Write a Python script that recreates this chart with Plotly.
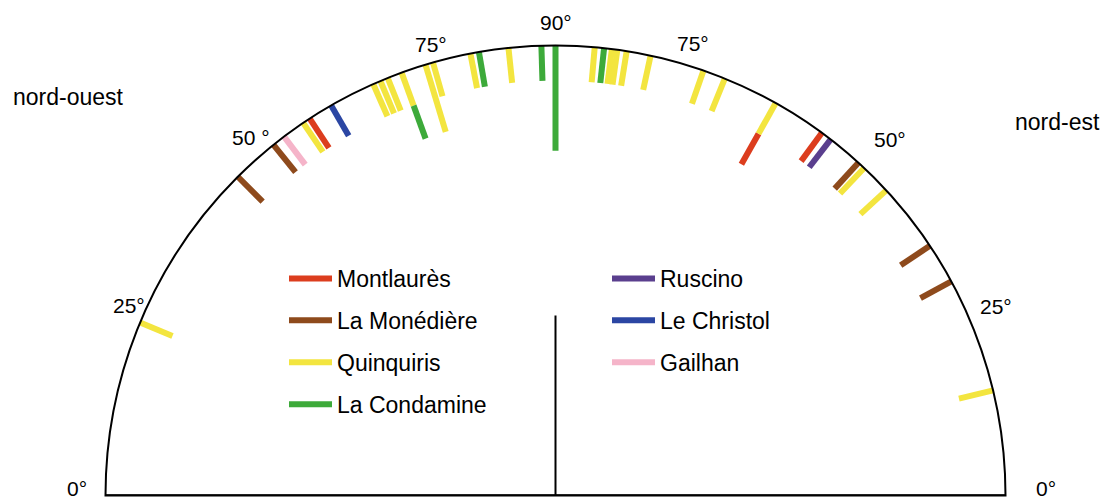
import plotly.graph_objects as go
from collections import Counter

# ---------------- data ----------------
sites = ["Montlaurès", "La Monédière", "Quinquiris", "La Condamine",
         "Ruscino", "Le Christol", "Gailhan"]
colors = ["#DC3D1E", "#8E4A1C", "#F3E53F", "#3DAA3A",
          "#5A3F8E", "#2B46A3", "#F5B4C9"]

# orientation angles (degrees above the horizon), one entry per unit
ouest_montlaures = [56.9]
ouest_monediere = [45.1, 51.2]
ouest_quinquiris = [22.6, 55.9, 66.1, 67.1, 68.1, 70.0, 73.2, 73.2, 74.2, 79.1, 84.0]
ouest_condamine = [70.0, 80.2, 88.2, 90.0, 90.0, 90.0]
ouest_ruscino = []
ouest_christol = [60.1]
ouest_gailhan = [52.9]

est_montlaures = [60.7, 53.7]
est_monediere = [47.7, 33.7, 28.4]
est_quinquiris = [85.0, 82.8, 82.1, 80.9, 77.8, 70.8, 67.9, 60.7, 46.7, 42.7, 13.5]
est_condamine = [83.8]
est_ruscino = [52.3]
est_christol = []
est_gailhan = []

ouest = [ouest_montlaures, ouest_monediere, ouest_quinquiris, ouest_condamine,
         ouest_ruscino, ouest_christol, ouest_gailhan]
est = [est_montlaures, est_monediere, est_quinquiris, est_condamine,
       est_ruscino, est_christol, est_gailhan]

angle_ticks = ["0°", "25°", "50 °", "75°", "90°", "75°", "50°", "25°", "0°"]
side_labels = ["nord-ouest", "nord-est"]

# ---------------- build ----------------
UNIT = 0.078
W, H = 1105, 500
CX, CY, R = 555.5, 495.5, 450.0

stack_order = [2, 0, 1, 3, 4, 5, 6]  # Quinquiris drawn outermost when stacked
offsets = {}
segs = {i: ([], []) for i in range(len(sites))}
for i in stack_order:
    for side, lists in (("o", ouest), ("e", est)):
        for a, n in Counter(lists[i]).items():
            key = (side, a)
            off = offsets.get(key, 0.0)
            th = 180 - a if side == "o" else a
            rr, tt = segs[i]
            rr += [1 - off, 1 - off - n * UNIT, None]
            tt += [th, th, None]
            offsets[key] = off + n * UNIT

fig = go.Figure()

# baseline and centre line
fig.add_trace(go.Scatterpolar(r=[1.012, 1.012], theta=[180, 0], mode="lines",
                              line=dict(color="black", width=2.5),
                              showlegend=False, cliponaxis=False, hoverinfo="skip"))
fig.add_trace(go.Scatterpolar(r=[0, 0.4], theta=[90, 90], mode="lines",
                              line=dict(color="black", width=2),
                              showlegend=False, cliponaxis=False, hoverinfo="skip"))

for i, name in enumerate(sites):
    rr, tt = segs[i]
    fig.add_trace(go.Scatterpolar(
        r=rr, theta=tt, mode="lines", name=name,
        line=dict(color=colors[i], width=6),
        legend="legend" if i < 4 else "legend2",
        legendgroup=name, cliponaxis=False, hoverinfo="skip"))

leg_common = dict(xanchor="left", yanchor="top", font=dict(size=23),
                  tracegroupgap=9, traceorder="grouped", itemwidth=43,
                  bgcolor="rgba(0,0,0,0)")
fig.update_layout(
    width=W, height=H,
    margin=dict(l=0, r=0, t=0, b=0),
    paper_bgcolor="white",
    font=dict(family="Liberation Sans, Arial, sans-serif", size=21, color="black"),
    polar=dict(
        domain=dict(x=[(CX - R) / W, (CX + R) / W],
                    y=[(H - CY) / H, (H - CY + R) / H]),
        sector=[0, 180],
        bgcolor="white",
        radialaxis=dict(visible=False, range=[0, 1]),
        angularaxis=dict(showline=True, linecolor="black", linewidth=2,
                         showgrid=False, ticks="", showticklabels=False),
    ),
    legend=dict(x=284 / W, y=1 - 257 / H, **leg_common),
    legend2=dict(x=607 / W, y=1 - 257 / H, **leg_common),
)

# angle labels and side labels
label_pos = [(77, 488), (129, 305), (251, 137), (431, 45), (556, 22),
             (693, 44), (890, 139), (996, 306), (1046, 488)]
for txt, (px, py) in zip(angle_ticks, label_pos):
    fig.add_annotation(text=txt, x=px / W, y=1 - py / H, xref="paper", yref="paper",
                       showarrow=False, xanchor="center", yanchor="middle",
                       font=dict(size=21))
for txt, (px, py) in zip(side_labels, [(68, 97), (1057, 122)]):
    fig.add_annotation(text=txt, x=px / W, y=1 - py / H, xref="paper", yref="paper",
                       showarrow=False, xanchor="center", yanchor="middle",
                       font=dict(size=23))

fig.write_html("out.html", config={"displayModeBar": False},
               post_script="document.body.style.margin='0';")
